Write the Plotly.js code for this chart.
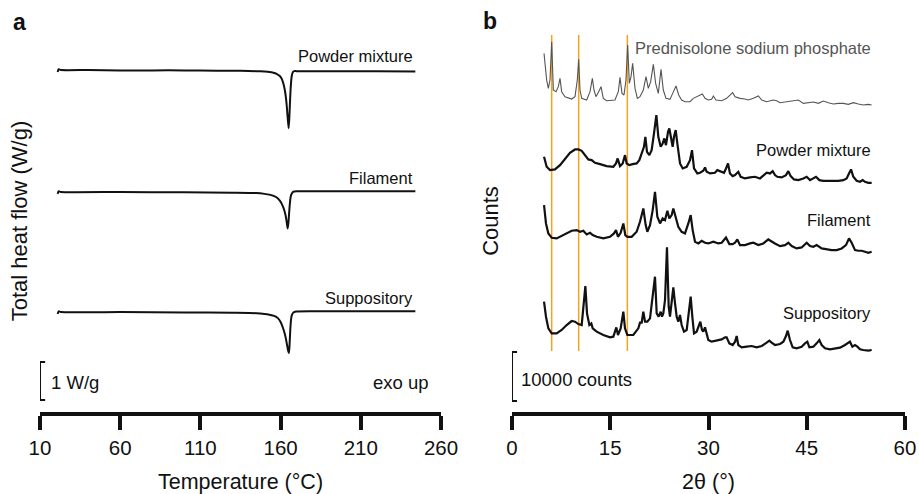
<!DOCTYPE html>
<html>
<head>
<meta charset="utf-8">
<script src="https://cdn.plot.ly/plotly-3.0.1.min.js"></script>
<style>html,body{margin:0;padding:0;background:#fff;}#chart{width:919px;height:494px;}</style>
</head>
<body>
<div id="chart"></div>
<script>
// ---------- Panel a: DSC (temperature °C, heat flow W/g relative to baseline) ----------
const dscPowderT = [21, 21.6, 23, 40, 60, 80, 100, 120, 135, 145, 150, 153, 155.5, 157.5, 159.5, 160.8, 161.8, 162.6, 163.3, 163.9, 164.5, 165, 165.4, 165.8, 166.3, 166.9, 167.6, 168.5, 170, 180, 200, 220, 244];
const dscPowderHF = [-0.05, 0.02, 0, 0, -0.01, -0.01, -0.01, -0.02, -0.02, -0.03, -0.04, -0.05, -0.07, -0.1, -0.16, -0.24, -0.37, -0.52, -0.72, -0.98, -1.3, -1.53, -1.3, -0.9, -0.45, -0.17, -0.06, -0.03, -0.03, -0.03, -0.03, -0.03, -0.04];

const dscFilamentT = [21, 21.6, 23, 60, 100, 130, 145, 150, 153, 156, 158, 159.5, 160.8, 161.8, 162.6, 163.3, 163.9, 164.4, 164.9, 165.4, 165.9, 166.4, 167, 168, 170, 200, 244];
const dscFilamentHF = [-0.05, 0.02, 0, 0, -0.01, -0.02, -0.03, -0.05, -0.07, -0.11, -0.16, -0.23, -0.32, -0.42, -0.53, -0.66, -0.82, -0.96, -0.8, -0.5, -0.25, -0.1, -0.04, 0.01, 0.02, 0.02, 0.02];

const dscSuppT = [21, 21.6, 23, 60, 100, 130, 145, 150, 153, 156, 158.3, 160, 161.5, 162.5, 163.3, 164, 164.6, 165.2, 165.6, 166, 166.5, 167, 167.8, 169, 180, 200, 244];
const dscSuppHF = [-0.05, 0.02, 0, 0, -0.01, -0.02, -0.03, -0.05, -0.07, -0.1, -0.16, -0.26, -0.42, -0.56, -0.7, -0.86, -1.0, -1.08, -0.85, -0.5, -0.2, -0.08, -0.02, 0.01, 0.02, 0.02, 0.02];

const dscTicks = [10, 60, 110, 160, 210, 260];
const dscNames = ["Powder mixture", "Filament", "Suppository"];

// ---------- Panel b: XRD (2θ °, counts relative to baseline) ----------
const predAngle = [4.89,5.29,5.55,5.80,6.06,6.31,6.72,7.07,7.33,7.58,8.09,9.11,9.62,9.97,10.18,10.38,10.64,11.40,11.91,12.27,12.52,12.82,13.23,13.59,13.94,14.45,15.72,16.23,16.49,16.79,17.10,17.40,17.66,17.91,18.17,18.42,18.78,19.14,19.54,20.05,20.46,20.81,21.17,21.58,21.93,22.34,22.75,23.10,23.51,24.12,24.53,25.04,25.45,25.90,26.41,27.18,27.68,28.19,28.70,29.06,29.47,29.97,30.48,30.74,31.14,32.01,32.77,33.69,34.05,34.81,35.57,36.08,36.85,37.61,38.12,38.88,39.90,40.41,40.92,41.93,42.95,43.72,44.48,45.24,46.01,46.77,47.53,48.30,49.06,49.82,50.59,51.35,52.11,52.88,53.64,54.40,54.91];
const predCounts = [10540,5100,3400,5100,12920,3060,2720,3740,5440,2720,1700,1224,1700,5100,9316,3060,1360,1020,2720,5440,3060,1700,2720,3740,1360,884,1020,2720,5644,2380,2040,5100,12240,4420,5780,8500,3400,1360,1700,3060,5780,3400,4760,8296,4420,2380,7276,3060,1360,1156,2380,3876,2040,1020,680,680,1360,1700,2040,2244,1360,1020,1156,1836,1020,884,1360,2516,1700,1360,1224,1020,1360,1836,1020,680,1020,884,476,680,816,1020,340,544,612,340,816,476,204,340,340,136,476,204,0,136,0];

const powderAngle = [4.89,5.29,5.80,6.56,7.33,8.09,8.85,9.62,10.13,10.64,11.14,11.65,12.16,12.67,13.44,14.45,15.47,15.88,16.13,16.49,16.90,17.25,17.51,17.91,18.42,19.03,19.44,19.80,20.15,20.36,20.61,20.97,21.32,21.68,22.04,22.34,22.70,23.00,23.26,23.51,23.82,24.02,24.28,24.53,24.73,24.99,25.24,25.65,26.06,26.67,27.18,27.48,27.79,28.30,28.70,29.21,29.47,29.72,30.23,30.99,31.35,31.65,32.01,32.37,32.67,32.98,33.28,33.69,34.05,34.55,34.91,35.57,36.34,37.10,37.86,38.47,38.88,39.39,39.80,40.15,40.51,41.17,41.83,42.19,42.54,43.05,43.72,44.48,44.99,45.50,46.01,46.41,46.92,47.53,48.30,49.06,49.82,50.59,51.09,51.45,51.76,52.11,52.62,53.13,53.54,53.89,54.40,54.91];
const powderCounts = [5304,3264,2584,2720,3604,4964,6120,6800,6800,6528,5644,4760,4624,4080,3808,3400,3264,3944,4964,3400,3944,5644,3944,3604,3808,3944,4624,5984,7344,9384,6324,5644,6664,10064,13804,9384,7344,8024,9044,7684,10404,11084,8704,7344,9384,10744,8024,3944,2924,3264,4624,6664,2924,1904,2040,2448,3128,2244,1904,2040,2584,2380,2244,2040,2924,3944,1904,1360,1564,2244,1224,884,1088,1224,884,1564,2040,1904,2380,1564,1224,1088,1564,2380,1360,680,544,884,1224,544,884,1224,544,408,408,340,408,544,884,1904,2720,1224,408,204,544,204,0,0];

const filamentAngle = [4.89,5.19,5.55,6.06,6.82,7.58,8.35,9.11,9.87,10.38,10.89,11.40,11.91,12.32,12.93,13.94,14.96,15.57,15.88,16.18,16.59,17.00,17.30,17.61,18.27,19.03,19.54,20.05,20.41,20.66,21.07,21.48,21.83,22.19,22.60,23.00,23.36,23.72,24.02,24.38,24.63,24.99,25.39,25.90,26.41,26.92,27.28,27.58,27.94,28.45,28.96,29.47,29.97,30.74,31.50,32.01,32.67,33.18,33.69,34.05,34.40,34.81,35.57,36.34,36.85,37.61,38.37,39.13,39.64,40.15,40.92,41.68,42.19,42.70,43.46,44.22,44.99,45.50,46.01,46.51,47.28,48.04,48.80,49.57,50.33,50.99,51.45,51.86,52.37,52.88,53.38,53.89,54.40,54.91];
const filamentCounts = [9520,5780,3740,2856,2720,3196,3740,4284,4420,4080,4284,3536,3876,3400,3060,2720,3060,3740,4420,3060,3876,5780,3400,3060,3060,4080,6120,8840,5440,4080,5440,8500,12240,7140,5780,6800,6460,8364,6800,7480,8840,6800,5100,4080,3740,5780,7480,4420,2040,1700,2244,1836,1700,2040,1700,1836,2924,1564,1564,1836,2516,1360,1360,1700,1836,1360,1700,2516,2040,1700,1156,1360,1836,1156,680,884,1836,1156,1020,1360,680,476,340,340,680,1360,2720,1836,340,204,204,0,-204,0];

const suppAngle = [4.89,5.19,5.55,6.06,6.82,7.58,8.35,9.11,9.62,10.13,10.64,10.94,11.20,11.45,11.81,12.11,12.32,12.93,13.94,14.96,15.47,15.72,15.93,16.18,16.59,17.00,17.25,17.61,18.52,19.29,19.54,19.80,20.05,20.31,20.66,21.07,21.42,21.83,22.09,22.39,22.70,22.90,23.10,23.36,23.66,23.92,24.12,24.38,24.63,24.89,25.14,25.39,25.65,25.90,26.26,26.67,26.97,27.28,27.53,27.79,28.19,28.50,28.75,29.01,29.21,29.47,29.72,29.97,30.48,31.25,32.01,32.52,32.77,33.18,33.69,34.05,34.30,34.55,35.06,35.83,36.59,37.35,38.12,38.88,39.29,39.64,40.15,40.92,41.43,41.83,42.09,42.44,42.85,43.46,44.22,44.73,45.09,45.40,46.01,46.51,46.92,47.28,47.79,48.55,49.31,50.08,50.84,51.35,51.60,51.96,52.37,52.73,53.13,53.64,54.40,54.91];
const suppCounts = [9860,6800,4420,3400,3400,4080,5100,5916,5780,5304,5100,8840,13056,7480,5100,5440,4420,3740,3060,2584,2720,3740,4624,3060,4420,7820,4420,3060,3060,4420,5576,5576,7820,5780,5780,6460,10200,14960,7480,6800,7820,6800,7480,10200,20944,8840,6800,10200,12784,9520,6800,5780,7140,5100,3740,4080,8160,10880,6800,3400,3740,4760,5780,4080,3740,4624,3060,2040,1700,1904,2176,2584,2584,1360,1020,1700,2856,1020,544,680,816,544,816,1496,1904,1496,1020,1224,1700,2856,3944,2040,544,340,680,1360,1700,544,680,1360,2040,1020,340,136,340,476,1020,1496,1700,680,1020,680,136,0,-136,0];

const xrdTicks = [0, 15, 30, 45, 60];
const xrdNames = ["Prednisolone sodium phosphate", "Powder mixture", "Filament", "Suppository"];
const refLines = [6.06, 10.18, 17.61];

// ---------- layout constants (positions / styles) ----------
const W = 919, H = 494;
const FONT = "Liberation Sans, Arial, Helvetica, sans-serif";
const dscOffset = [9.0, 5.79, 2.63];
const xrdOffset = [62650, 46780, 32700, 12650];
const yBottomPx = 412, yTopPx = 30;
const yDom = [(H - yBottomPx) / H, (H - yTopPx) / H];
const dscPerPx = 1 / 38, xrdPerPx = 10000 / 49;
const dscRange = [0, (yBottomPx - yTopPx) * dscPerPx];
const xrdRange = [0, (yBottomPx - yTopPx) * xrdPerPx];
const px = v => v / W, py = v => 1 - v / H;

const shift = (arr, o) => arr.map(v => v + o);

const traces = [
  {x: dscPowderT, y: shift(dscPowderHF, dscOffset[0]), name: dscNames[0]},
  {x: dscFilamentT, y: shift(dscFilamentHF, dscOffset[1]), name: dscNames[1]},
  {x: dscSuppT, y: shift(dscSuppHF, dscOffset[2]), name: dscNames[2]}
].map(t => Object.assign(t, {type: "scatter", mode: "lines", xaxis: "x", yaxis: "y",
  line: {color: "#111", width: 2, shape: "spline", smoothing: 0.5}, hoverinfo: "skip"}));

const xrdSets = [[predAngle, predCounts], [powderAngle, powderCounts], [filamentAngle, filamentCounts], [suppAngle, suppCounts]];
xrdSets.forEach((s, i) => {
  traces.push({type: "scatter", mode: "lines", xaxis: "x2", yaxis: "y2", name: xrdNames[i],
    x: s[0], y: shift(s[1], xrdOffset[i]), hoverinfo: "skip",
    line: i === 0 ? {color: "#555", width: 1.1} : {color: "#111", width: 2.2}});
});

const shapes = [];
refLines.forEach(a => shapes.push({type: "line", xref: "x2", yref: "y2", x0: a, x1: a,
  y0: (yBottomPx - 351) * xrdPerPx, y1: (yBottomPx - 35) * xrdPerPx, line: {color: "#F7A21B", width: 1.5}, layer: "below"}));
// scale bars
const barA = [(yBottomPx - 400) * dscPerPx, (yBottomPx - 400) * dscPerPx + 1];
const capA = 3.2;
shapes.push({type: "line", xref: "x", yref: "y", x0: 10, x1: 10, y0: barA[0], y1: barA[1], line: {color: "#111", width: 2}});
shapes.push({type: "line", xref: "x", yref: "y", x0: 10 - capA, x1: 10 + capA, y0: barA[0], y1: barA[0], line: {color: "#111", width: 2}});
shapes.push({type: "line", xref: "x", yref: "y", x0: 10 - capA, x1: 10 + capA, y0: barA[1], y1: barA[1], line: {color: "#111", width: 2}});
const barB = [(yBottomPx - 401) * xrdPerPx, (yBottomPx - 401) * xrdPerPx + 10000];
const capB = 0.77;
shapes.push({type: "line", xref: "x2", yref: "y2", x0: 0, x1: 0, y0: barB[0], y1: barB[1], line: {color: "#111", width: 2}});
shapes.push({type: "line", xref: "x2", yref: "y2", x0: -capB, x1: capB, y0: barB[0], y1: barB[0], line: {color: "#111", width: 2}});
shapes.push({type: "line", xref: "x2", yref: "y2", x0: -capB, x1: capB, y0: barB[1], y1: barB[1], line: {color: "#111", width: 2}});

const ann = (text, x, y, xa, size, extra) => Object.assign({text, x: px(x), y: py(y), xref: "paper", yref: "paper",
  xanchor: xa, yanchor: "middle", showarrow: false, font: {family: FONT, size, color: "#111"}}, extra || {});

const annotations = [
  ann("<b>a</b>", 11, 22, "left", 23),
  ann("<b>b</b>", 481, 21, "left", 23),
  ann(dscNames[0], 415, 56, "right", 16.5),
  ann(dscNames[1], 415, 178, "right", 16.5),
  ann(dscNames[2], 415, 298, "right", 16.5),
  ann("1 W/g", 49, 382, "left", 18.5),
  ann("exo up", 431, 382, "right", 18.5),
  ann(xrdNames[0], 873, 48, "right", 16.5, {font: {family: FONT, size: 16.5, color: "#555"}}),
  ann(xrdNames[1], 873, 150, "right", 16.5),
  ann(xrdNames[2], 873, 220, "right", 16.5),
  ann(xrdNames[3], 873, 313, "right", 16.5),
  ann("10000 counts", 519, 379, "left", 18.5)
];

const xAxisBase = {ticks: "outside", ticklen: 14, tickwidth: 4, tickcolor: "#111", showline: true, linewidth: 4,
  linecolor: "#111", showgrid: false, zeroline: false, tickfont: {family: FONT, size: 20.5, color: "#111"},
  fixedrange: true, automargin: false};
const yAxisBase = {showline: false, showgrid: false, zeroline: false, showticklabels: false, ticks: "",
  fixedrange: true, automargin: false};

const layout = {
  width: W, height: H, margin: {l: 0, r: 0, t: 0, b: 0}, paper_bgcolor: "#fff", plot_bgcolor: "rgba(0,0,0,0)",
  showlegend: false, font: {family: FONT, color: "#111"},
  xaxis: Object.assign({}, xAxisBase, {domain: [px(40), px(441)], range: [10, 260], tickvals: dscTicks, anchor: "y",
    title: {text: "Temperature (°C)", font: {family: FONT, size: 21.5, color: "#111"}, standoff: 24}}),
  yaxis: Object.assign({}, yAxisBase, {domain: yDom, range: dscRange, anchor: "x",
    title: {text: "Total heat flow (W/g)", font: {family: FONT, size: 22, color: "#111"}, standoff: 5}}),
  xaxis2: Object.assign({}, xAxisBase, {domain: [px(512), px(905)], range: [0, 60], tickvals: xrdTicks, anchor: "y2",
    title: {text: "2θ (°)", font: {family: FONT, size: 21.5, color: "#111"}, standoff: 24}}),
  yaxis2: Object.assign({}, yAxisBase, {domain: yDom, range: xrdRange, anchor: "x2",
    title: {text: "Counts", font: {family: FONT, size: 22, color: "#111"}, standoff: 6}}),
  shapes, annotations
};

Plotly.newPlot("chart", traces, layout, {displayModeBar: false, staticPlot: true});
</script>
</body>
</html>
